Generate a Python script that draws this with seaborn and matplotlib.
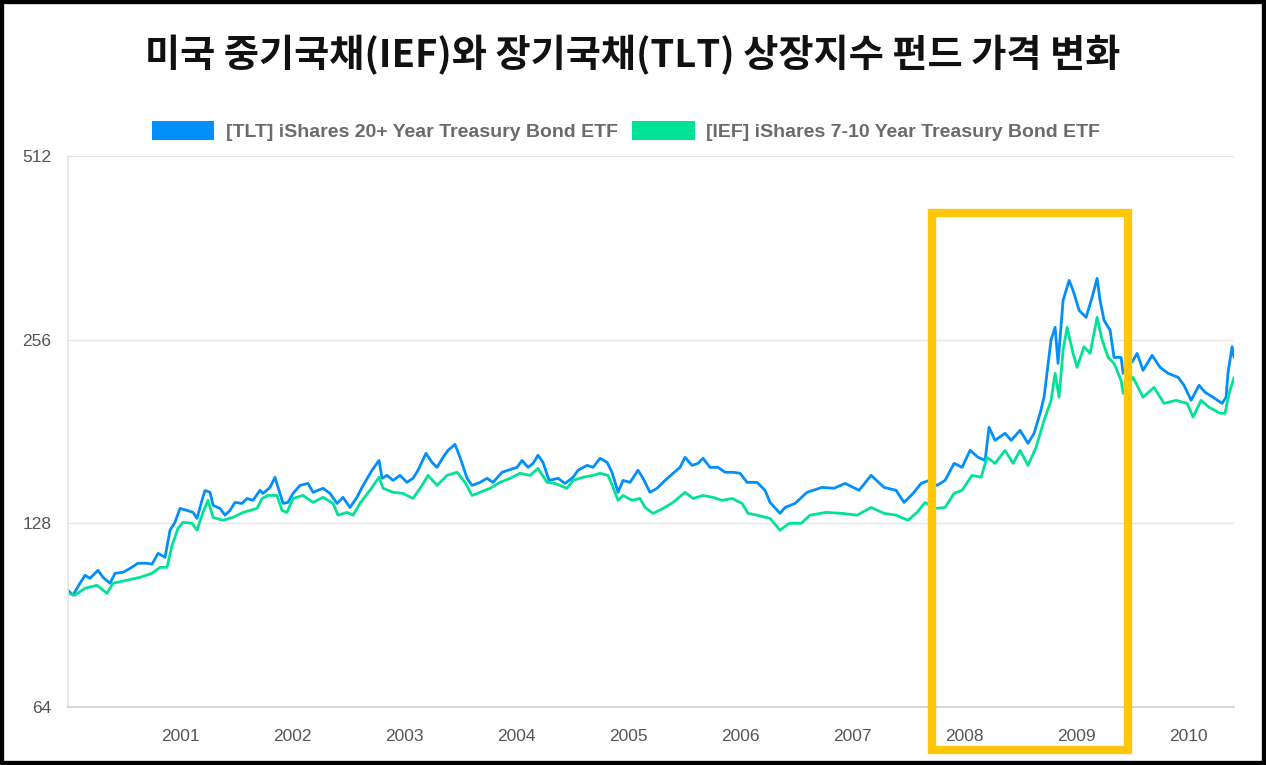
import matplotlib
matplotlib.use("Agg")
import matplotlib.pyplot as plt
import matplotlib.transforms as mtransforms
from matplotlib.patches import Patch, Rectangle
import numpy as np
import pandas as pd
import seaborn as sns

# values (fractional year, fund price)
tlt_years = [
    2000.000, 2000.045, 2000.107, 2000.152, 2000.196, 2000.268, 2000.313, 2000.375,
    2000.420, 2000.491, 2000.554, 2000.625, 2000.705, 2000.750, 2000.804, 2000.866,
    2000.911, 2000.955, 2001.000, 2001.063, 2001.116, 2001.152, 2001.196, 2001.223,
    2001.268, 2001.295, 2001.357, 2001.402, 2001.446, 2001.491, 2001.554, 2001.598,
    2001.652, 2001.714, 2001.741, 2001.804, 2001.848, 2001.875, 2001.920, 2001.964,
    2002.009, 2002.071, 2002.143, 2002.188, 2002.277, 2002.339, 2002.402, 2002.455,
    2002.518, 2002.580, 2002.625, 2002.714, 2002.777, 2002.804, 2002.848, 2002.902,
    2002.964, 2003.027, 2003.080, 2003.125, 2003.196, 2003.250, 2003.295, 2003.348,
    2003.393, 2003.455, 2003.500, 2003.563, 2003.607, 2003.679, 2003.741, 2003.795,
    2003.875, 2003.929, 2004.009, 2004.054, 2004.107, 2004.152, 2004.196, 2004.241,
    2004.295, 2004.375, 2004.438, 2004.509, 2004.554, 2004.634, 2004.688, 2004.750,
    2004.813, 2004.857, 2004.911, 2004.955, 2005.018, 2005.089, 2005.134, 2005.196,
    2005.259, 2005.330, 2005.402, 2005.464, 2005.509, 2005.571, 2005.625, 2005.670,
    2005.732, 2005.804, 2005.866, 2005.938, 2006.000, 2006.063, 2006.152, 2006.223,
    2006.268, 2006.357, 2006.402, 2006.491, 2006.598, 2006.732, 2006.839, 2006.938,
    2007.063, 2007.170, 2007.286, 2007.393, 2007.464, 2007.545, 2007.616, 2007.688,
    2007.759, 2007.830, 2007.911, 2007.982, 2008.054, 2008.125, 2008.188, 2008.223,
    2008.277, 2008.366, 2008.420, 2008.500, 2008.571, 2008.625, 2008.679, 2008.714,
    2008.777, 2008.813, 2008.839, 2008.884, 2008.938, 2008.973, 2009.027, 2009.089,
    2009.143, 2009.188, 2009.214, 2009.250, 2009.304, 2009.339, 2009.402, 2009.420,
    2009.509, 2009.545, 2009.598, 2009.679, 2009.750, 2009.821, 2009.911, 2009.964,
    2010.027, 2010.098, 2010.152, 2010.223, 2010.304, 2010.339, 2010.357, 2010.393,
    2010.411,
]
tlt_prices = [
    99.4, 97.6, 102.1, 105.2, 104.0, 107.2, 104.4, 102.1,
    106.0, 106.4, 108.0, 110.1, 110.1, 109.7, 114.3, 112.6,
    124.7, 128.5, 135.4, 134.4, 133.4, 130.4, 139.6, 144.9,
    143.9, 137.0, 135.4, 132.0, 134.4, 138.5, 138.0, 140.6,
    139.6, 145.0, 143.3, 146.6, 152.3, 146.6, 138.0, 138.5,
    143.3, 147.7, 148.8, 143.9, 146.1, 143.3, 138.0, 141.2,
    135.9, 141.2, 146.6, 156.4, 162.3, 151.7, 153.4, 150.5,
    153.4, 149.4, 151.7, 156.4, 166.7, 161.1, 158.1, 164.2,
    168.6, 172.4, 164.2, 151.7, 147.7, 149.4, 151.7, 149.4,
    155.2, 156.4, 158.1, 162.3, 158.1, 160.5, 165.5, 161.1,
    150.5, 151.7, 148.8, 152.3, 156.4, 159.3, 158.1, 163.6,
    161.1, 155.2, 143.9, 150.5, 149.4, 156.4, 151.7, 143.9,
    146.1, 150.5, 154.6, 158.1, 164.2, 159.3, 160.5, 163.6,
    158.1, 158.1, 155.2, 155.2, 154.6, 149.4, 149.4, 145.0,
    138.5, 132.9, 135.9, 138.0, 143.9, 146.6, 146.1, 148.8,
    145.0, 153.4, 146.6, 145.0, 138.5, 143.3, 148.8, 150.5,
    147.7, 150.5, 160.5, 158.1, 168.6, 164.2, 162.3, 183.9,
    175.1, 179.8, 175.1, 181.8, 173.1, 179.8, 193.9, 206.0,
    256.0, 268.2, 234.1, 296.9, 320.2, 308.4, 286.0, 278.5,
    300.3, 322.6, 297.0, 275.3, 265.2, 239.4, 239.4, 225.5,
    236.8, 243.1, 228.0, 241.3, 230.6, 225.5, 222.1, 215.5,
    203.6, 215.5, 209.9, 206.0, 201.3, 206.0, 226.3, 249.3,
    239.4,
]

ief_years = [
    2000.000, 2000.063, 2000.152, 2000.259, 2000.348, 2000.402, 2000.527, 2000.643,
    2000.750, 2000.821, 2000.884, 2000.929, 2000.982, 2001.027, 2001.107, 2001.152,
    2001.205, 2001.250, 2001.295, 2001.384, 2001.473, 2001.563, 2001.688, 2001.732,
    2001.786, 2001.866, 2001.911, 2001.955, 2002.009, 2002.098, 2002.188, 2002.277,
    2002.366, 2002.411, 2002.491, 2002.545, 2002.607, 2002.696, 2002.777, 2002.813,
    2002.902, 2002.991, 2003.080, 2003.161, 2003.214, 2003.295, 2003.384, 2003.473,
    2003.545, 2003.607, 2003.679, 2003.768, 2003.857, 2003.946, 2004.036, 2004.125,
    2004.196, 2004.277, 2004.348, 2004.455, 2004.509, 2004.598, 2004.688, 2004.750,
    2004.821, 2004.866, 2004.911, 2004.955, 2005.036, 2005.107, 2005.152, 2005.223,
    2005.313, 2005.402, 2005.509, 2005.580, 2005.670, 2005.759, 2005.839, 2005.929,
    2006.018, 2006.071, 2006.152, 2006.268, 2006.357, 2006.438, 2006.545, 2006.625,
    2006.768, 2006.911, 2007.045, 2007.170, 2007.286, 2007.393, 2007.500, 2007.580,
    2007.652, 2007.741, 2007.830, 2007.911, 2007.982, 2008.071, 2008.152, 2008.205,
    2008.277, 2008.366, 2008.438, 2008.500, 2008.571, 2008.643, 2008.714, 2008.777,
    2008.813, 2008.848, 2008.884, 2008.920, 2008.973, 2009.009, 2009.071, 2009.125,
    2009.188, 2009.232, 2009.286, 2009.339, 2009.402, 2009.420, 2009.509, 2009.598,
    2009.696, 2009.786, 2009.893, 2009.991, 2010.045, 2010.116, 2010.188, 2010.286,
    2010.330, 2010.366, 2010.411,
]
ief_prices = [
    98.3, 97.6, 100.2, 101.3, 98.3, 102.1, 103.3, 104.4,
    106.0, 108.4, 108.4, 117.8, 125.6, 128.5, 128.0, 124.7,
    133.4, 139.6, 130.9, 129.5, 130.9, 133.4, 135.4, 140.6,
    142.2, 142.2, 134.4, 133.4, 140.6, 142.2, 138.5, 141.2,
    138.0, 132.0, 133.4, 132.0, 138.0, 145.0, 152.3, 146.1,
    143.9, 143.3, 140.6, 147.7, 153.4, 147.7, 153.4, 155.2,
    149.4, 142.2, 143.9, 146.1, 149.4, 151.7, 154.6, 153.4,
    157.5, 149.4, 148.8, 146.1, 150.5, 152.3, 153.4, 154.6,
    153.4, 146.6, 139.6, 142.2, 139.6, 140.6, 135.9, 132.9,
    135.4, 138.5, 143.9, 140.6, 142.2, 141.2, 139.6, 140.6,
    138.0, 132.9, 132.0, 130.4, 124.7, 128.0, 128.0, 132.0,
    133.4, 132.9, 132.0, 135.9, 132.9, 132.0, 129.5, 133.4,
    138.5, 135.4, 135.9, 143.3, 145.0, 153.4, 152.3, 164.2,
    160.5, 168.6, 160.5, 168.6, 159.3, 170.5, 188.8, 203.6,
    225.5, 206.0, 245.9, 268.2, 243.1, 230.6, 249.3, 243.1,
    278.5, 256.0, 239.4, 234.1, 219.5, 209.1, 222.1, 206.0,
    213.8, 201.3, 203.6, 201.3, 191.2, 203.6, 198.3, 193.9,
    193.9, 209.1, 222.1,
]

tlt_label = "[TLT] iShares 20+ Year Treasury Bond ETF"
ief_label = "[IEF] iShares 7-10 Year Treasury Bond ETF"
year_ticks = [2001, 2002, 2003, 2004, 2005, 2006, 2007, 2008, 2009, 2010]
price_ticks = [64, 128, 256, 512]
highlight_years = (2007.714, 2009.464)

title = "미국 중기국채(IEF)와 장기국채(TLT) 상장지수 펀드 가격 변화"

# build a long dataframe for seaborn
df = pd.concat([
    pd.DataFrame({"year": tlt_years, "price": tlt_prices, "fund": tlt_label}),
    pd.DataFrame({"year": ief_years, "price": ief_prices, "fund": ief_label}),
], ignore_index=True)

palette = {tlt_label: "#008FFB", ief_label: "#00E396"}

sns.set_theme(style="white")
plt.rcParams['font.family'] = ['Liberation Sans', 'DejaVu Sans']

fig = plt.figure(figsize=(12.66, 7.65), dpi=100)
ax = fig.add_axes([68 / 1266, 1 - 707 / 765, (1234 - 68) / 1266, (707 - 156) / 765])

sns.lineplot(data=df, x="year", y="price", hue="fund", palette=palette,
             estimator=None, sort=False, linewidth=2.0, ax=ax, legend=False)

ax.set_yscale("log", base=2)
ax.set_ylim(64, 512)
ax.set_xlim(2000.0, 2010.41)
ax.set_yticks(price_ticks)
ax.set_yticklabels([str(t) for t in price_ticks])
ax.minorticks_off()
ax.set_xticks(year_ticks)
ax.set_xticklabels([str(t) for t in year_ticks])
ax.set_xlabel("")
ax.set_ylabel("")

ax.grid(axis="y", color="#e6e6e6", linewidth=1)
ax.grid(axis="x", visible=False)
for side in ["top", "right"]:
    ax.spines[side].set_visible(False)
ax.spines["left"].set_color("#e6e6e6")
ax.spines["bottom"].set_color("#d0d0d0")
ax.tick_params(axis="y", length=8, color="#e0e0e0", width=1, pad=4,
               labelsize=12.5, labelcolor="#555555")
ax.tick_params(axis="x", length=0, pad=16, labelsize=12.5, labelcolor="#555555")

# legend with coloured boxes
handles = [Patch(facecolor=palette[tlt_label], edgecolor="none", label=tlt_label),
           Patch(facecolor=palette[ief_label], edgecolor="none", label=ief_label)]
fig.legend(handles=handles, loc="center", bbox_to_anchor=(626 / 1266, 1 - 131 / 765),
           ncol=2, frameon=False, handlelength=3.2, handleheight=1.1,
           handletextpad=0.6, columnspacing=0.75,
           prop={"family": "Liberation Sans", "weight": "bold", "size": 14},
           labelcolor="#6b6b6b")

fig.text(0.5, 1 - 55 / 765, title, ha="center", va="center", fontsize=27.5,
         fontweight="bold", family=["Noto Sans CJK KR", "DejaVu Sans"], color="#111111")

# highlight box around the 2008-2009 period
trans = mtransforms.blended_transform_factory(ax.transData, fig.transFigure)
box = Rectangle((highlight_years[0], 1 - 750 / 765), highlight_years[1] - highlight_years[0],
                (750 - 213) / 765, transform=trans, fill=False, edgecolor="#FFC60A",
                linewidth=6, clip_on=False, zorder=10)
fig.add_artist(box)

# black frame around the whole picture
frame = Rectangle((0, 0), 1, 1, transform=fig.transFigure, fill=False,
                  edgecolor="black", linewidth=6, clip_on=False)
fig.add_artist(frame)

fig.savefig("out.png", dpi=100)
